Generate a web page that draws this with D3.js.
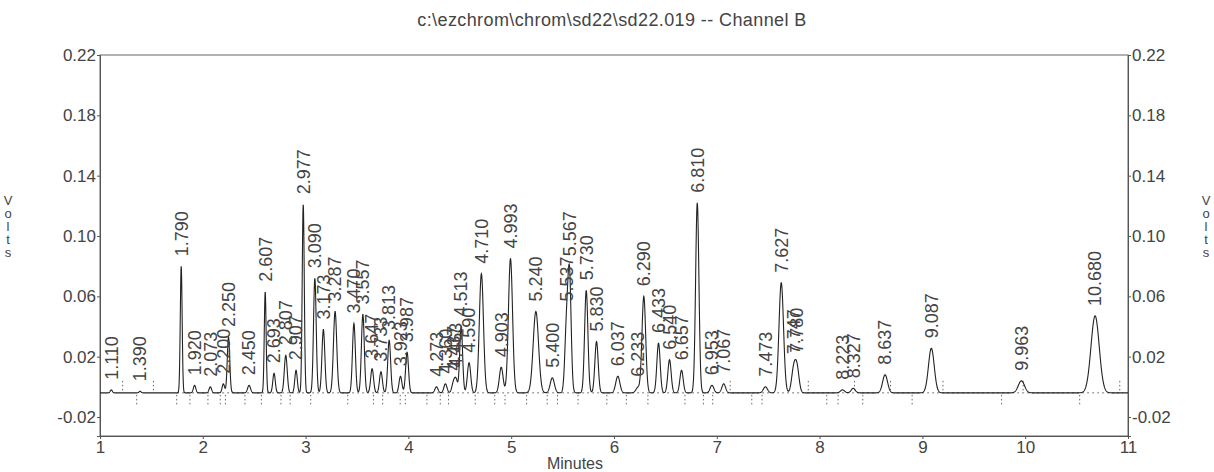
<!DOCTYPE html>
<html><head><meta charset="utf-8">
<script src="https://cdn.jsdelivr.net/npm/d3@7/dist/d3.min.js"></script>
<style>
body{margin:0;background:#fff}
svg{display:block}
text{font-family:"Liberation Sans",Arial,sans-serif;fill:#444}
</style>
</head><body>
<svg id="c" width="1214" height="472"></svg>
<script>
// ---------------- data ----------------
const titleText = "c:\\ezchrom\\chrom\\sd22\\sd22.019 -- Channel B";
const xLabel = "Minutes";
const yLabel = "Volts";
const xTicks = [1,2,3,4,5,6,7,8,9,10,11];
const yTicks = [-0.02,0.02,0.06,0.10,0.14,0.18,0.22];
const yTickLabels = ["-0.02","0.02","0.06","0.10","0.14","0.18","0.22"];
const xDomain = [1,11];
const yDomain = [-0.0326,0.22];
const baselineLevel = -0.004;

const peakLabels = ["1.110","1.390","1.790","1.920","2.073","2.200","2.250","2.450","2.607","2.693","2.807","2.907","2.977","3.090","3.173","3.287","3.470","3.557","3.647","3.733","3.813","3.923","3.987","4.273","4.360","4.437","4.463","4.513","4.590","4.710","4.903","4.993","5.240","5.400","5.537","5.567","5.730","5.830","6.037","6.233","6.290","6.433","6.540","6.657","6.810","6.953","7.067","7.473","7.627","7.747","7.780","8.223","8.327","8.637","9.087","9.963","10.680"];
const peakTimes = [1.110,1.390,1.790,1.920,2.073,2.200,2.250,2.450,2.607,2.693,2.807,2.907,2.977,3.090,3.173,3.287,3.470,3.557,3.647,3.733,3.813,3.923,3.987,4.273,4.360,4.437,4.463,4.513,4.590,4.710,4.903,4.993,5.240,5.400,5.537,5.567,5.730,5.830,6.037,6.233,6.290,6.433,6.540,6.657,6.810,6.953,7.067,7.473,7.627,7.747,7.780,8.223,8.327,8.637,9.087,9.963,10.680];
const peakApex = [-0.002,-0.003,0.080,0.001,0.000,0.002,0.033,0.001,0.063,0.009,0.021,0.011,0.121,0.072,0.038,0.050,0.042,0.048,0.012,0.010,0.031,0.007,0.023,0.000,0.002,0.004,0.006,0.040,0.016,0.075,0.013,0.085,0.050,0.006,0.050,0.080,0.064,0.030,0.007,0.000,0.060,0.029,0.018,0.011,0.122,0.001,0.002,0.000,0.069,0.015,0.016,-0.002,-0.001,0.008,0.0255,0.004,0.047];
const peakWidth = [0.010,0.010,0.009,0.012,0.012,0.012,0.012,0.014,0.009,0.012,0.014,0.012,0.010,0.013,0.014,0.016,0.014,0.014,0.014,0.014,0.014,0.014,0.014,0.015,0.015,0.015,0.015,0.014,0.016,0.020,0.018,0.020,0.026,0.020,0.016,0.016,0.016,0.016,0.020,0.020,0.018,0.016,0.016,0.016,0.016,0.018,0.018,0.020,0.022,0.020,0.020,0.020,0.020,0.024,0.028,0.030,0.040];

// integration event marks (minutes)
const eventsBelow = [1.357,1.746,1.875,2.05,2.17,2.22,2.41,2.57,2.76,2.85,3.05,3.41,3.66,3.75,3.92,3.97,4.18,4.31,4.39,4.65,4.84,4.94,5.15,5.35,5.45,5.65,5.93,6.12,6.33,6.69,6.87,6.96,7.34,7.44,8.07,8.18,8.42,8.90,9.77,10.53];
const eventsAbove = [1.22,1.52,7.13,7.89,8.34,8.69,9.20,9.98,10.92];

// ---------------- layout ----------------
const svg = d3.select("#c");
const L = 100, R = 1128, T = 55, B = 436;
const x = d3.scaleLinear().domain(xDomain).range([L, R]);
const y = d3.scaleLinear().domain(yDomain).range([B, T]);

// fit gaussian amplitudes so the summed trace passes through the read apex values
const n = peakTimes.length;
const g = (j, t) => Math.exp(-0.5 * Math.pow((t - peakTimes[j]) / peakWidth[j], 2));
const amps = peakApex.map(v => Math.max(0, v - baselineLevel));
for (let it = 0; it < 300; it++) {
  for (let i = 0; i < n; i++) {
    let s = baselineLevel;
    for (let j = 0; j < n; j++) if (Math.abs(peakTimes[j] - peakTimes[i]) < 0.3) s += amps[j] * g(j, peakTimes[i]);
    amps[i] = Math.max(0, amps[i] + (peakApex[i] - s));
  }
}
const signal = t => {
  let s = baselineLevel;
  for (let j = 0; j < n; j++) { const d = Math.abs(t - peakTimes[j]); if (d < 0.4) s += amps[j] * g(j, t); }
  return s;
};
const ts = d3.range(xDomain[0], xDomain[1] + 1e-9, 0.002);

// title
svg.append("text").attr("x", 612).attr("y", 26).attr("text-anchor", "middle")
  .style("font-size", "18px").style("letter-spacing", "0.4px").text(titleText);

// frame
svg.append("rect").attr("x", L).attr("y", T).attr("width", R - L).attr("height", B - T)
  .attr("fill", "none").attr("stroke", "#666").attr("stroke-width", 1);

// axes
const fmt = d => yTickLabels[yTicks.indexOf(d)];
const gl = svg.append("g").attr("transform", `translate(${L},0)`)
  .call(d3.axisLeft(y).tickValues(yTicks).tickFormat(fmt).tickSize(3).tickPadding(1));
const gr = svg.append("g").attr("transform", `translate(${R},0)`)
  .call(d3.axisRight(y).tickValues(yTicks).tickFormat(fmt).tickSize(3).tickPadding(1));
const gb = svg.append("g").attr("transform", `translate(0,${B})`)
  .call(d3.axisBottom(x).tickValues(xTicks).tickFormat(d3.format("d")).tickSize(3).tickPadding(2));
[gl, gr, gb].forEach(a => {
  a.select(".domain").attr("stroke", "#555");
  a.selectAll(".tick line").attr("stroke", "#555");
  a.selectAll("text").style("font-size", "17px").style("font-family", '"Liberation Sans",Arial,sans-serif').attr("fill", "#444");
});

// axis titles
svg.append("text").attr("x", 575).attr("y", 469).attr("text-anchor", "middle")
  .style("font-size", "16px").text(xLabel);
[8, 1206].forEach(cx => {
  yLabel.split("").forEach((ch, i) => {
    svg.append("text").attr("x", cx).attr("y", 205 + i * 13).attr("text-anchor", "middle")
      .style("font-size", "13px").text(ch);
  });
});

// baseline (dotted) and event marks
const yb = y(baselineLevel);
svg.append("line").attr("x1", x(1.75)).attr("x2", x(10.95)).attr("y1", yb).attr("y2", yb)
  .attr("stroke", "#777").attr("stroke-width", 1).attr("stroke-dasharray", "2,3");
svg.append("g").selectAll("line").data(eventsBelow).join("line")
  .attr("x1", d => x(d)).attr("x2", d => x(d)).attr("y1", yb + 2).attr("y2", yb + 14)
  .attr("stroke", "#666").attr("stroke-dasharray", "1.5,2.5");
svg.append("g").selectAll("line").data(eventsAbove).join("line")
  .attr("x1", d => x(d)).attr("x2", d => x(d)).attr("y1", yb - 12).attr("y2", yb - 1)
  .attr("stroke", "#666").attr("stroke-dasharray", "1.5,2.5");

// trace
const line = d3.line().x(d => x(d)).y(d => y(signal(d)));
svg.append("path").datum(ts).attr("d", line).attr("fill", "none")
  .attr("stroke", "#222").attr("stroke-width", 1.1);

// peak labels
svg.append("g").selectAll("text").data(peakTimes).join("text")
  .attr("transform", (d, i) => `translate(${x(d)},${y(Math.max(peakApex[i], signal(d))) - 10}) rotate(-90)`)
  .attr("dy", "0.35em").attr("text-anchor", "start")
  .style("font-size", "18px")
  .text((d, i) => peakLabels[i]);
</script>
</body></html>
